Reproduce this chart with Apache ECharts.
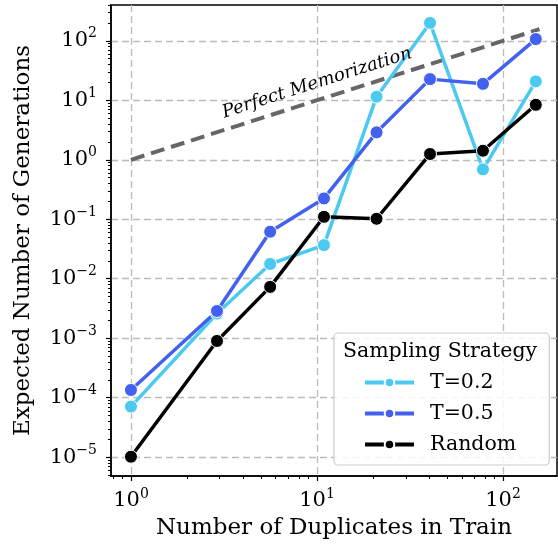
<!DOCTYPE html>
<html>
<head>
<meta charset="utf-8">
<script src="https://cdn.jsdelivr.net/npm/echarts@6/dist/echarts.min.js"></script>
<style>
  html, body { margin: 0; padding: 0; background: #fff; }
  #main { width: 558px; height: 545px; }
</style>
</head>
<body>
<div id="main"></div>
<script>
// data (log-log plot)
const duplicates = [1, 2.9, 5.6, 10.9, 20.9, 40.5, 78, 150];
const t02 = [7.1e-5, 2.6e-3, 0.0177, 0.0368, 11.5, 200, 0.69, 20.8];
const t05 = [1.35e-4, 2.87e-3, 0.0617, 0.224, 2.89, 22.7, 18.9, 107];
const random = [1.02e-5, 9.0e-4, 7.3e-3, 0.110, 0.102, 1.25, 1.42, 8.4];
const memX = [1, 157];
const memY = [1, 157];
const seriesNames = ['T=0.2', 'T=0.5', 'Random'];
const xDecades = [0, 1, 2];
const yDecades = [-5, -4, -3, -2, -1, 0, 1, 2];
const xRange = [0.781, 195];
const yRange = [4.83e-6, 400];

const FONT = 'DejaVu Serif';
const lg = Math.log10;

// minor ticks at 2..9 x 10^k (matplotlib style)
const minorTicks = (lo, hi) => {
  const out = [];
  for (let k = Math.floor(lg(lo)); k <= Math.ceil(lg(hi)); k++) {
    for (let m = 2; m <= 9; m++) {
      const v = m * Math.pow(10, k);
      if (v >= lo && v <= hi) out.push(lg(v));
    }
  }
  return out;
};

const toPts = (xs, ys) => xs.map((x, i) => [lg(x), lg(ys[i])]);

const powLabel = v => {
  const e = Math.round(v);
  return '{b|10}{s|' + (e < 0 ? '\u2212' + (-e) : e) + '}';
};
const labelRich = {
  b: { fontFamily: FONT, fontSize: 21, color: '#000', lineHeight: 28 },
  s: { fontFamily: FONT, fontSize: 14, color: '#000', verticalAlign: 'top', lineHeight: 26 }
};

const gridDash = { color: '#bbbbbb', width: 1.3, type: [7, 4] };
const nameStyle = { fontFamily: FONT, fontSize: 23, color: '#000' };

const mainAxis = (range, decades, extra) => Object.assign({
  type: 'value',
  min: lg(range[0]),
  max: lg(range[1]),
  axisLine: { show: true, onZero: false, lineStyle: { color: '#000', width: 1.5 } },
  axisTick: { show: true, customValues: decades, length: 5, lineStyle: { color: '#000', width: 1.2 } },
  splitLine: { show: true, lineStyle: gridDash }
}, extra);

const minorAxis = (range, extra) => Object.assign({
  type: 'value',
  min: lg(range[0]),
  max: lg(range[1]),
  axisLine: { show: false, onZero: false },
  axisTick: { show: true, customValues: minorTicks(range[0], range[1]), length: 3, lineStyle: { color: '#000', width: 1 } },
  axisLabel: { show: false },
  splitLine: { show: false }
}, extra);

const lineSeries = (name, color, ys) => ({
  name: name,
  type: 'line',
  data: toPts(duplicates, ys),
  symbol: 'circle',
  symbolSize: 13,
  showSymbol: true,
  lineStyle: { color: color, width: 3.5 },
  itemStyle: { color: color, borderColor: '#fff', borderWidth: 1 },
  z: 3
});

const chart = echarts.init(document.getElementById('main'));
const option = {
  animation: false,
  grid: { left: 111, right: 1, top: 5, bottom: 69, show: true, borderColor: '#000', borderWidth: 1.5 },
  xAxis: [
    mainAxis(xRange, xDecades, {
      position: 'bottom',
      axisLabel: { customValues: xDecades, formatter: powLabel, rich: labelRich, margin: 11 },
      name: 'Number of Duplicates in Train',
      nameLocation: 'middle',
      nameGap: 38,
      nameTextStyle: nameStyle
    }),
    minorAxis(xRange, { position: 'bottom' })
  ],
  yAxis: [
    mainAxis(yRange, yDecades, {
      position: 'left',
      axisLabel: { customValues: yDecades, formatter: powLabel, rich: labelRich, margin: 14 },
      name: 'Expected Number of Generations',
      nameLocation: 'middle',
      nameGap: 76,
      nameTextStyle: nameStyle
    }),
    minorAxis(yRange, { position: 'left' })
  ],
  legend: {
    data: seriesNames,
    orient: 'vertical',
    left: 334,
    top: 333,
    padding: [39, 33, 10, 29],
    itemWidth: 49,
    itemHeight: 12,
    itemGap: 10,
    lineStyle: { width: 4 },
    backgroundColor: 'rgba(255,255,255,0.85)',
    borderColor: '#cccccc',
    borderWidth: 1.2,
    borderRadius: 4,
    textStyle: { fontFamily: FONT, fontSize: 20.5, color: '#000', padding: [0, 0, 0, 11] }
  },
  series: [
    {
      name: 'Perfect Memorization',
      type: 'line',
      data: toPts(memX, memY),
      symbol: 'none',
      lineStyle: { color: '#666666', width: 4, type: [14, 7] },
      z: 2
    },
    lineSeries('T=0.2', '#4cc9f0', t02),
    lineSeries('T=0.5', '#4361ee', t05),
    lineSeries('Random', '#000000', random)
  ]
};
chart.setOption(option);

// annotation along the memorization line
const p1 = chart.convertToPixel({ gridIndex: 0 }, [lg(1), lg(1)]);
const p2 = chart.convertToPixel({ gridIndex: 0 }, [lg(100), lg(100)]);
const ang = -Math.atan2(p2[1] - p1[1], p2[0] - p1[0]);
const pc = chart.convertToPixel({ gridIndex: 0 }, [lg(10), lg(19.5)]);

chart.setOption({
  graphic: [
    {
      type: 'text', x: pc[0], y: pc[1], rotation: ang, z: 50,
      style: { text: 'Perfect Memorization', fontFamily: FONT, fontStyle: 'italic', fontSize: 18, fill: '#000', align: 'center', verticalAlign: 'middle' }
    },
    {
      type: 'text', x: 440, y: 352, z: 50,
      style: { text: 'Sampling Strategy', fontFamily: FONT, fontSize: 20.5, fill: '#000', align: 'center', verticalAlign: 'middle' }
    }
  ]
});
</script>
</body>
</html>
